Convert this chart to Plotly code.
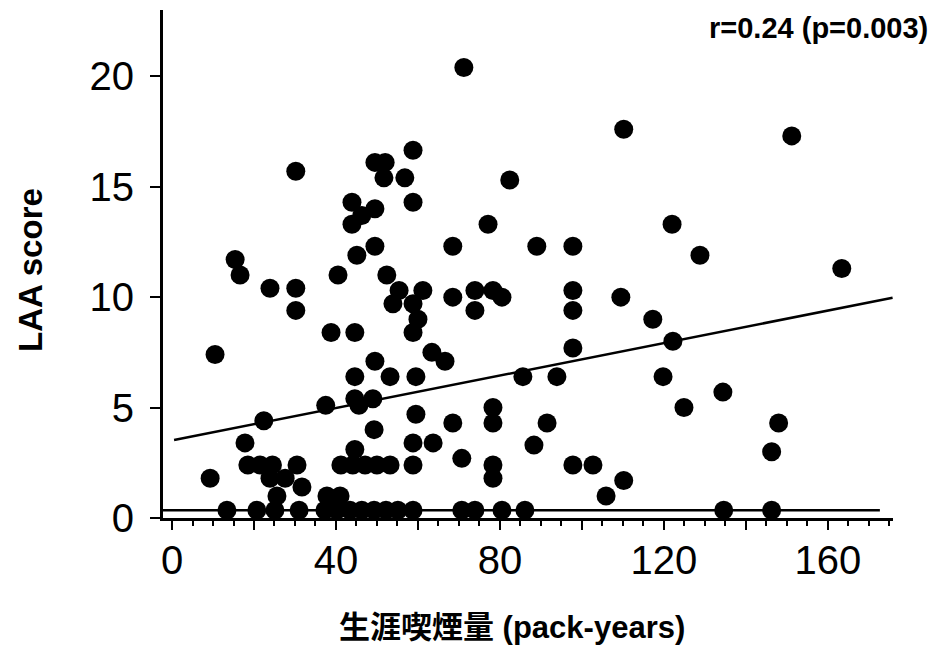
import plotly.graph_objects as go

# ---- data ----
pack_years = [
    71.2, 110.2, 151.2, 58.8, 30.2, 49.5, 52.0, 51.7, 56.8, 82.4,
    58.8, 43.9, 49.5, 46.3, 43.9, 77.1, 122.0, 68.5, 49.5, 89.0,
    97.8, 128.8, 45.1, 15.4, 163.4, 16.6, 40.5, 52.4, 23.9, 30.2,
    55.4, 61.2, 73.9, 78.3, 97.8, 68.5, 80.5, 109.5, 53.9, 58.8,
    30.2, 73.9, 97.8, 60.0, 117.3, 58.8, 38.8, 44.6, 122.2, 97.8,
    63.4, 10.5, 66.6, 49.5, 44.6, 53.2, 59.5, 85.6, 93.9, 119.8,
    134.4, 44.6, 49.0, 45.6, 37.5, 78.3, 124.9, 59.5, 22.4, 68.5,
    78.3, 91.5, 148.0, 49.3, 17.8, 58.8, 63.7, 88.3, 44.6, 146.3,
    70.7,
    18.5, 21.5, 24.5, 30.5, 41.2, 44.1, 47.1, 50.0, 53.2, 58.8, 78.3, 97.8, 102.7,
    9.3, 23.9, 27.6, 78.3, 110.2,
    31.7,
    25.6, 37.8, 41.0, 105.9,
    13.4, 20.7, 25.1, 31.0, 37.3, 40.2, 43.4, 46.3, 49.3, 52.2, 55.1, 58.8,
    70.7, 73.9, 80.5, 86.1, 134.6, 146.3,
]
laa_score = [
    20.4, 17.6, 17.3, 16.65, 15.7, 16.1, 16.1, 15.4, 15.4, 15.3,
    14.3, 14.3, 14.0, 13.7, 13.3, 13.3, 13.3, 12.3, 12.3, 12.3,
    12.3, 11.9, 11.9, 11.7, 11.3, 11.0, 11.0, 11.0, 10.4, 10.4,
    10.3, 10.3, 10.3, 10.3, 10.3, 10.0, 10.0, 10.0, 9.7, 9.7,
    9.4, 9.4, 9.4, 9.0, 9.0, 8.4, 8.4, 8.4, 8.0, 7.7,
    7.5, 7.4, 7.1, 7.1, 6.4, 6.4, 6.4, 6.4, 6.4, 6.4,
    5.7, 5.4, 5.4, 5.1, 5.1, 5.0, 5.0, 4.7, 4.4, 4.3,
    4.3, 4.3, 4.3, 4.0, 3.4, 3.4, 3.4, 3.3, 3.1, 3.0,
    2.7,
    2.4, 2.4, 2.4, 2.4, 2.4, 2.4, 2.4, 2.4, 2.4, 2.4, 2.4, 2.4, 2.4,
    1.8, 1.8, 1.8, 1.8, 1.7,
    1.4,
    1.0, 1.0, 1.0, 1.0,
    0.35, 0.35, 0.35, 0.35, 0.35, 0.35, 0.35, 0.35, 0.35, 0.35, 0.35, 0.35,
    0.35, 0.35, 0.35, 0.35, 0.35, 0.35,
]

fit_x = [0.5, 175.8]
fit_y = [3.53, 9.97]
base_x = [-2.2, 172.7]
base_y = [0.35, 0.35]

x_tick_vals = [0, 20, 40, 60, 80, 100, 120, 140, 160]
x_tick_text = ["0", "", "40", "", "80", "", "120", "", "160"]
y_tick_vals = [0, 5, 10, 15, 20]
y_tick_text = ["0", "5", "10", "15", "20"]

stat_text = "r=0.24 (p=0.003)"
x_title = "生涯喫煙量 (pack-years)"
y_title = "LAA score"

bold_font = "Liberation Sans, Arial, Noto Sans CJK JP"
tick_font = "Liberation Sans, Arial"

# page body has an 8px margin: plot area spans page px 163..893 (x), 10..518 (y)
PL, PR, PT, PB = 163, 893, 10, 518
W, H = 928, 638
OFF = 8

def px_x(p):
    return (p - PL) / (PR - PL)

def px_y(p):
    return (PB - p) / (PB - PT)

fig = go.Figure()
fig.add_trace(go.Scatter(x=base_x, y=base_y, mode="lines",
                         line=dict(color="black", width=2.5), hoverinfo="skip"))
fig.add_trace(go.Scatter(x=fit_x, y=fit_y, mode="lines",
                         line=dict(color="black", width=2.5), hoverinfo="skip"))
fig.add_trace(go.Scatter(x=pack_years, y=laa_score, mode="markers",
                         marker=dict(color="black", size=19, line=dict(width=0)),
                         cliponaxis=False))

fig.update_layout(
    width=W, height=H,
    margin=dict(l=PL - OFF, r=W - (PR - OFF), t=PT - OFF, b=H - (PB - OFF)),
    plot_bgcolor="white", paper_bgcolor="white",
    showlegend=False,
)
fig.update_xaxes(
    range=[-2.2, 175.9], showgrid=False, zeroline=False,
    showline=True, linecolor="black", linewidth=3,
    tickmode="array", tickvals=x_tick_vals, ticktext=x_tick_text,
    ticks="outside", ticklen=9, tickwidth=2, tickcolor="black",
    ticklabelstandoff=-4,
    minor=dict(dtick=5, tick0=0, ticks="outside", ticklen=5, tickwidth=1.5, tickcolor="black"),
    tickfont=dict(family=tick_font, size=40, color="black"),
)
fig.update_yaxes(
    range=[0, 23], showgrid=False, zeroline=False,
    showline=True, linecolor="black", linewidth=3,
    tickmode="array", tickvals=y_tick_vals, ticktext=y_tick_text,
    ticks="outside", ticklen=10, tickwidth=2, tickcolor="black",
    ticklabelstandoff=8,
    tickfont=dict(family=tick_font, size=40, color="black"),
)

fig.add_annotation(text="<b>" + stat_text + "</b>", xref="paper", yref="paper",
                   x=px_x(930), y=px_y(28), xanchor="right", yanchor="middle",
                   showarrow=False, font=dict(family=bold_font, size=29, color="black"))
fig.add_annotation(text="<b>" + x_title + "</b>", xref="paper", yref="paper",
                   x=px_x(512), y=px_y(627), xanchor="center", yanchor="middle",
                   showarrow=False, font=dict(family=bold_font, size=31, color="black"))
fig.add_annotation(text="<b>" + y_title + "</b>", xref="paper", yref="paper",
                   x=px_x(30), y=px_y(270), xanchor="center", yanchor="middle",
                   textangle=-90,
                   showarrow=False, font=dict(family=bold_font, size=33, color="black"))

fig.write_html("out.html")
